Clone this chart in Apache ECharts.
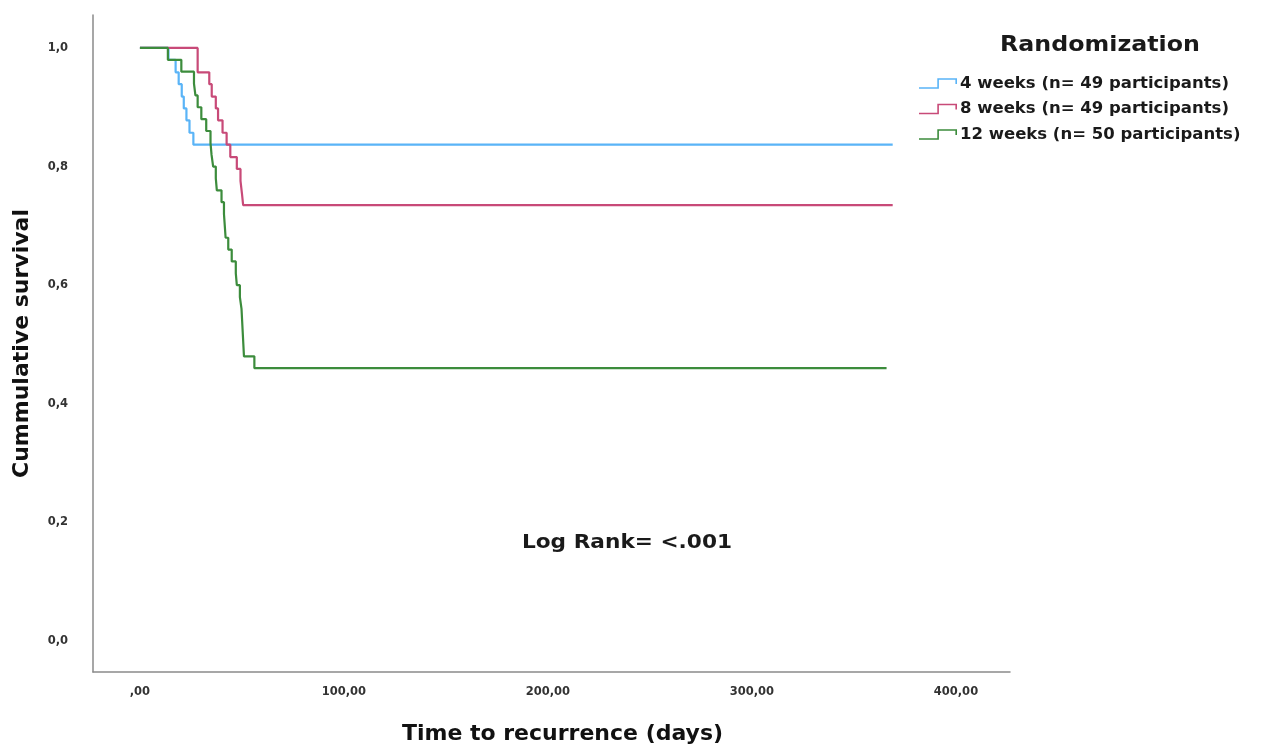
<!DOCTYPE html>
<html>
<head>
<meta charset="utf-8">
<script src="https://cdn.jsdelivr.net/npm/echarts@6/dist/echarts.min.js"></script>
<style>
html,body{margin:0;padding:0;background:#fff;}
#chart{width:1278px;height:746px;}
</style>
</head>
<body>
<div id="chart"></div>
<script>
// Kaplan-Meier step points: [day, cumulative survival after event]
const seriesNames = ['4 weeks (n= 49 participants)', '8 weeks (n= 49 participants)', '12 weeks (n= 50 participants)'];
const week4 = [[0,1.0],[14,0.980],[17.5,0.959],[19,0.939],[20.5,0.918],[21.5,0.898],[22.8,0.878],[24.3,0.857],[26.2,0.837],[369,0.837]];
const week8 = [[0,1.0],[28.3,0.959],[34,0.939],[35.2,0.918],[37.2,0.898],[38.3,0.878],[40.5,0.857],[42.5,0.837],[44.3,0.816],[47.5,0.796],[49.3,0.776],[50,0.755],[50.6,0.735],[369,0.735]];
const week12 = [[0,1.0],[13.7,0.98],[20.3,0.96],[26.5,0.94],[27.2,0.92],[28.3,0.90],[30.1,0.88],[32.5,0.86],[34.6,0.84],[35.1,0.82],[35.9,0.80],[37.2,0.78],[37.7,0.76],[40.0,0.74],[41.2,0.72],[41.6,0.70],[42.0,0.68],[43.3,0.66],[45.0,0.64],[47.0,0.62],[47.5,0.60],[49.0,0.58],[49.8,0.56],[50.1,0.54],[50.4,0.52],[50.7,0.50],[51.0,0.48],[56.1,0.46],[366,0.46]];
const xTicks = [0, 100, 200, 300, 400];
const yTicks = [0, 0.2, 0.4, 0.6, 0.8, 1.0];
const colors = ['#5AB4F7', '#C84A78', '#3C8C3C'];
const stepIcon = 'path://M0,9.2L18.2,9.2L18.2,0.2L37.8,0.2L37.8,6L36.2,6L36.2,1.8L19.8,1.8L19.8,10.8L0,10.8Z';

const chart = echarts.init(document.getElementById('chart'));
const fontFam = '"DejaVu Sans", "Liberation Sans", Arial, sans-serif';
chart.setOption({
  animation: false,
  backgroundColor: '#fff',
  textStyle: { fontFamily: fontFam },
  legend: {
    orient: 'vertical', left: 914, top: 70, itemWidth: 38, itemHeight: 11, itemGap: 8.5,
    data: seriesNames.map(n => ({ name: n, icon: stepIcon })),
    textStyle: { fontSize: 16.5, lineHeight: 17, fontWeight: 'bold', color: '#1a1a1a', fontFamily: fontFam, padding: [0,0,0,-2] }
  },
  grid: { left: 93, top: 15, right: 268, bottom: 74, outerBoundsMode: 'none', containLabel: false },
  xAxis: {
    type: 'value', min: -23, max: 426.5,
    name: 'Time to recurrence (days)', nameLocation: 'middle', nameGap: 51,
    nameTextStyle: { fontSize: 22, fontWeight: 'bold', color: '#111', padding: [0,0,0,22] },
    axisLine: { show: true, onZero: false, lineStyle: { color: '#8a8a8a', width: 1.5 } },
    axisTick: { show: false },
    splitLine: { show: false },
    axisLabel: {
      customValues: xTicks, margin: 14, fontSize: 11.5, fontWeight: 'bold', color: '#333',
      formatter: v => v === 0 ? ',00' : (v.toFixed(0) + ',00')
    }
  },
  yAxis: {
    type: 'value', min: -0.0523, max: 1.0556,
    name: 'Cummulative survival', nameLocation: 'middle', nameGap: 60,
    nameTextStyle: { fontSize: 22, fontWeight: 'bold', color: '#111' },
    axisLine: { show: true, onZero: false, lineStyle: { color: '#8a8a8a', width: 1.5 } },
    axisTick: { show: false },
    splitLine: { show: false },
    axisLabel: {
      customValues: yTicks, margin: 25, fontSize: 11.5, fontWeight: 'bold', color: '#333',
      formatter: v => v.toFixed(1).replace('.', ',')
    }
  },
  graphic: [{
    type: 'text', x: 1100, y: 46, scaleX: 1.13,
    style: { text: 'Randomization', font: 'bold 21px ' + fontFam, fill: '#1a1a1a', align: 'center', verticalAlign: 'middle' }
  }, {
    type: 'text', x: 627, y: 543, scaleX: 1.14,
    style: { text: 'Log Rank= <.001', font: 'bold 19px ' + fontFam, fill: '#1a1a1a', align: 'center', verticalAlign: 'middle' }
  }],
  series: [week4, week8, week12].map((d, i) => ({
    name: seriesNames[i], type: 'line', step: 'end', data: d, showSymbol: false,
    color: colors[i],
    lineStyle: { width: 2.2, color: colors[i] },
    itemStyle: { color: colors[i] },
    emphasis: { disabled: true }
  }))
});
</script>
</body>
</html>
